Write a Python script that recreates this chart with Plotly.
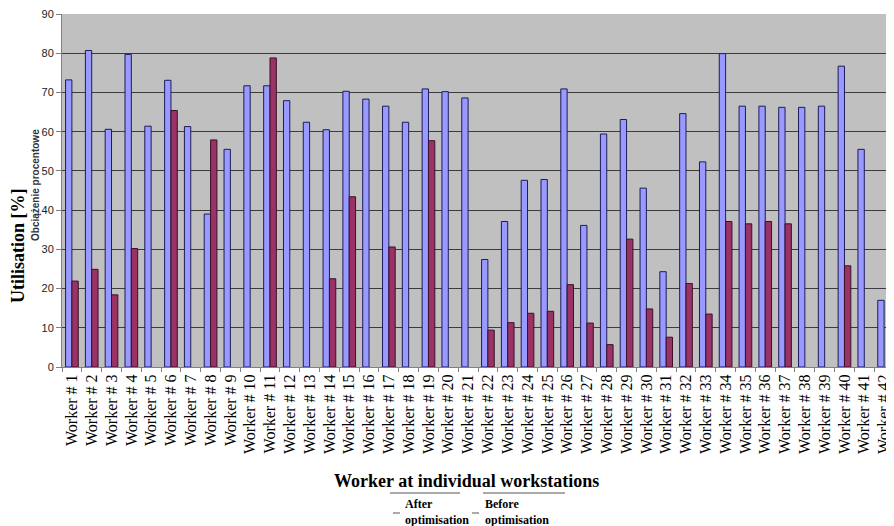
import plotly.graph_objects as go

workers = [f"Worker # {i}" for i in range(1, 43)]

after_opt = [73.2, 80.7, 60.6, 79.7, 61.4, 73.1, 61.3, 39.0, 55.5, 71.7,
             71.7, 67.9, 62.4, 60.5, 70.3, 68.3, 66.5, 62.4, 70.9, 70.2,
             68.6, 27.4, 37.1, 47.6, 47.8, 70.9, 36.1, 59.4, 63.1, 45.6,
             24.3, 64.6, 52.3, 79.9, 66.5, 66.5, 66.2, 66.2, 66.5, 76.7,
             55.5, 17.0]

before_opt = [21.9, 24.9, 18.4, 30.2, None, 65.4, None, 57.9, None, None,
              78.8, None, None, 22.5, 43.4, None, 30.6, None, 57.7, None,
              None, 9.4, 11.3, 13.7, 14.2, 21.0, 11.2, 5.7, 32.6, 14.8,
              7.6, 21.3, 13.5, 37.1, 36.5, 37.1, 36.5, None, None, 25.8,
              None, None]

y_ticks = [0, 10, 20, 30, 40, 50, 60, 70, 80, 90]

fig = go.Figure()
fig.add_trace(go.Bar(x=workers, y=after_opt, name="After optimisation",
                     marker=dict(color="#9999FF", line=dict(color="#1c1c5a", width=1)),
                     showlegend=False))
fig.add_trace(go.Bar(x=workers, y=before_opt, name="Before optimisation",
                     marker=dict(color="#993366", line=dict(color="#3a1028", width=1)),
                     showlegend=False))

serif = "Liberation Serif, Times New Roman, serif"
sans = "Liberation Sans, Arial, sans-serif"

# page pixel helpers (plot area: x 62..894, y 14..367 on the page)
def px(x):
    return (x - 62) / 832

def py(y):
    return (367 - y) / 353

fig.update_layout(
    width=886, height=518,
    margin=dict(l=54, r=0, t=6, b=159),
    paper_bgcolor="white",
    plot_bgcolor="#C0C0C0",
    barmode="group",
    bargap=0.36,
    bargroupgap=0,
    xaxis=dict(
        type="category",
        tickangle=-90,
        tickfont=dict(family=serif, size=16, color="black"),
        ticks="outside", ticklen=4, tickcolor="#808080",
        tickson="boundaries",
        showline=True, linecolor="#808080", linewidth=1,
        showgrid=False,
    ),
    yaxis=dict(
        range=[0, 90],
        tickvals=y_ticks,
        ticklabeloverflow="allow",
        tickfont=dict(family=sans, size=11, color="#222222"),
        ticks="outside", ticklen=5, tickcolor="#808080",
        showline=True, linecolor="#808080", linewidth=1,
        showgrid=True, gridcolor="#3c3c3c", gridwidth=1,
        zeroline=False,
    ),
    annotations=[
        dict(text="<b>Worker at individual workstations</b>", xref="paper", yref="paper",
             x=px(466), y=py(481), xanchor="center", yanchor="middle",
             showarrow=False, font=dict(family=serif, size=18, color="black")),
        dict(text="<b>Obciążenie procentowe</b>", xref="paper", yref="paper",
             x=px(35), y=py(185), xanchor="center", yanchor="middle", textangle=-90,
             showarrow=False, font=dict(family=sans, size=10, color="#333333")),
        dict(text="<b>Utilisation [%]</b>", xref="paper", yref="paper",
             x=px(18), y=py(246), xanchor="center", yanchor="middle", textangle=-90,
             showarrow=False, font=dict(family=serif, size=18, color="black")),
        dict(text="<b>After<br>optimisation</b>", xref="paper", yref="paper",
             x=px(403), y=py(495), xanchor="left", yanchor="top",
             align="left", showarrow=False,
             font=dict(family=serif, size=12, color="black")),
        dict(text="<b>Before<br>optimisation</b>", xref="paper", yref="paper",
             x=px(483), y=py(495), xanchor="left", yanchor="top",
             align="left", showarrow=False,
             font=dict(family=serif, size=12, color="black")),
    ],
    shapes=[
        dict(type="line", xref="paper", yref="paper",
             x0=px(393), x1=px(400), y0=py(513), y1=py(513),
             line=dict(color="#555555", width=1)),
        dict(type="line", xref="paper", yref="paper",
             x0=px(472), x1=px(479), y0=py(513), y1=py(513),
             line=dict(color="#555555", width=1)),
        dict(type="line", xref="paper", yref="paper",
             x0=px(390), x1=px(460), y0=py(493), y1=py(493),
             line=dict(color="#555555", width=1)),
        dict(type="line", xref="paper", yref="paper",
             x0=px(483), x1=px(565), y0=py(493), y1=py(493),
             line=dict(color="#555555", width=1)),
    ],
)

fig.write_html("out.html")
